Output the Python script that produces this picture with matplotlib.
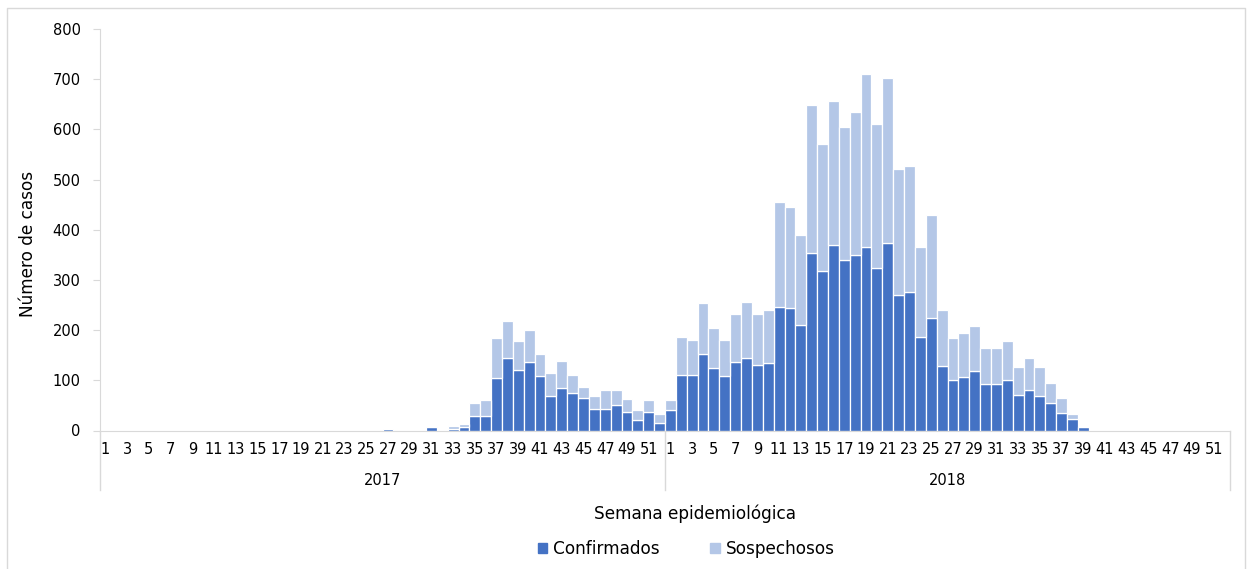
import matplotlib.pyplot as plt
from matplotlib.patches import Patch
from matplotlib.lines import Line2D
from matplotlib.transforms import blended_transform_factory

# weekly cases 2017 (weeks 1-52)
conf_2017 = [0] * 26 + [3, 0, 0, 0, 7, 0, 3, 7, 29, 29, 105, 145, 120, 137, 108, 69,
                        85, 74, 65, 43, 43, 51, 37, 21, 37, 15]
susp_2017 = [0] * 26 + [0, 0, 0, 0, 0, 0, 6, 6, 25, 31, 79, 73, 58, 63, 45, 45,
                        54, 36, 21, 25, 37, 29, 25, 19, 23, 17]
# weekly cases 2018 (weeks 1-52)
conf_2018 = [40, 111, 111, 153, 125, 108, 136, 145, 131, 134, 247, 244, 210, 354, 317,
             370, 339, 349, 365, 323, 373, 270, 275, 187, 224, 128, 100, 106, 118, 92,
             92, 100, 71, 80, 68, 54, 35, 23, 7] + [0] * 13
susp_2018 = [20, 76, 70, 101, 79, 73, 96, 112, 101, 106, 208, 202, 180, 295, 253,
             287, 265, 286, 346, 287, 330, 252, 253, 178, 205, 112, 84, 89, 91, 72,
             72, 78, 56, 64, 59, 40, 30, 9, 0] + [0] * 13
years = ["2017", "2018"]
week_labels = [str(w) for w in range(1, 53, 2)]

conf = conf_2017 + conf_2018
susp = susp_2017 + susp_2018
x = list(range(len(conf)))

c_conf = "#4472C4"
c_susp = "#B4C7E7"
grey = "#D9D9D9"
fs_num = 10.5
fs_txt = 12.2

plt.rcParams["font.family"] = ["DejaVu Sans"]
fig = plt.figure(figsize=(12.52, 5.69), dpi=100)
ax = fig.add_axes([100 / 1252, 1 - 430.5 / 569, 1130 / 1252, 401.5 / 569])

ax.bar(x, conf, width=1.0, color=c_conf, edgecolor="white", linewidth=0.9)
ax.bar(x, susp, width=1.0, bottom=conf, color=c_susp, edgecolor="white", linewidth=0.9)

ax.set_xlim(-0.5, len(conf) - 0.5)
ax.set_ylim(0, 800)
ax.set_yticks(range(0, 801, 100))
ax.tick_params(axis="y", labelsize=fs_num, length=5, color=grey, pad=9)

ticks = []
labels = []
for k in range(2):
    for w in range(1, 53, 2):
        ticks.append(k * 52 + w - 1)
        labels.append(week_labels[(w - 1) // 2])
ax.set_xticks(ticks)
ax.set_xticklabels(labels, fontsize=fs_num)
ax.tick_params(axis="x", length=0, pad=8)

for s in ["top", "right"]:
    ax.spines[s].set_visible(False)
for s in ["left", "bottom"]:
    ax.spines[s].set_color(grey)

trans = blended_transform_factory(ax.transData, ax.transAxes)
for b in [-0.5, 51.5, 103.5]:
    ax.add_line(Line2D([b, b], [0, -59 / 401.5], transform=trans, color=grey,
                       lw=1, clip_on=False))
for k, yr in enumerate(years):
    ax.text(k * 52 + 25.5, -50 / 401.5, yr, transform=trans, ha="center",
            va="center", fontsize=fs_num)

fig.text(28 / 1252, 1 - 244 / 569, "Número de casos", rotation=90, ha="center",
         va="center", fontsize=fs_txt)
fig.text(695 / 1252, 1 - 514 / 569, "Semana epidemiológica", ha="center",
         va="center", fontsize=fs_txt)

handles = [Patch(color=c_conf, label="Confirmados"),
           Patch(color=c_susp, label="Sospechosos")]
fig.legend(handles=handles, loc="center", bbox_to_anchor=(686 / 1252, 1 - 549 / 569),
           ncol=2, frameon=False, fontsize=fs_txt, handlelength=0.55, handleheight=0.55,
           handletextpad=0.35, columnspacing=3.0)

# chart border
fig.add_artist(Line2D([7 / 1252, 7 / 1252, 1245 / 1252, 1245 / 1252],
                      [0, 1 - 8 / 569, 1 - 8 / 569, 0], transform=fig.transFigure,
                      color=grey, lw=1))

fig.savefig("out.png", dpi=100)
